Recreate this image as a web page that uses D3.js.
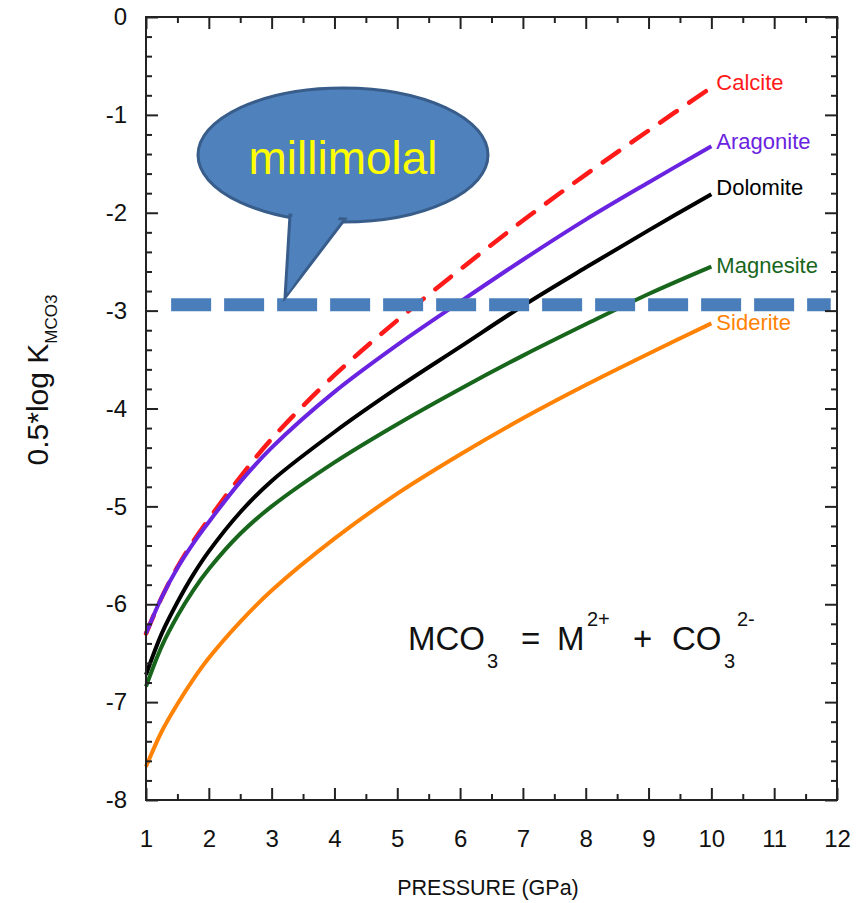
<!DOCTYPE html>
<html>
<head>
<meta charset="utf-8">
<script src="https://cdn.jsdelivr.net/npm/d3@7"></script>
<style>
  body { margin: 0; background: #fff; }
  svg { display: block; font-family: "Liberation Sans", Arial, sans-serif; }
</style>
</head>
<body>
<svg id="chart" width="864" height="903"></svg>
<script>
// ---------- data ----------
const pressure  = [1, 1.25, 1.5, 1.75, 2, 2.5, 3, 4, 5, 6, 7, 8, 9, 10];
const calcite   = [-6.30, -5.93, -5.62, -5.36, -5.13, -4.70, -4.31, -3.66, -3.10, -2.58, -2.08, -1.61, -1.16, -0.72];
const aragonite = [-6.30, -5.93, -5.63, -5.38, -5.16, -4.75, -4.40, -3.83, -3.35, -2.91, -2.48, -2.07, -1.69, -1.32];
const dolomite  = [-6.72, -6.30, -5.98, -5.70, -5.46, -5.06, -4.74, -4.24, -3.79, -3.37, -2.95, -2.56, -2.18, -1.81];
const magnesite = [-6.84, -6.43, -6.12, -5.86, -5.64, -5.28, -5.00, -4.55, -4.16, -3.80, -3.46, -3.14, -2.83, -2.55];
const siderite  = [-7.66, -7.30, -7.02, -6.77, -6.55, -6.18, -5.86, -5.33, -4.87, -4.47, -4.10, -3.76, -3.44, -3.13];
const seriesNames  = ["Calcite", "Aragonite", "Dolomite", "Magnesite", "Siderite"];
const seriesValues = [calcite, aragonite, dolomite, magnesite, siderite];
const xTicks = [1, 2, 3, 4, 5, 6, 7, 8, 9, 10, 11, 12];
const yTicks = [0, -1, -2, -3, -4, -5, -6, -7, -8];
const millimolalLevel = -2.94;

// ---------- styles / layout ----------
const seriesColors = ["#ff1a1a", "#6a23e0", "#000000", "#17661c", "#ff8205"];
const labelShift   = [-5, -5, -7, -1, -1];
const svg = d3.select("#chart");
const L = 146, R = 837, T = 17, B = 800;
const x = d3.scaleLinear().domain([1, 12]).range([L, R]);
const y = d3.scaleLinear().domain([-8, 0]).range([B, T]);
const frameColor = "#222";

// curves
const line = d3.line().x(d => x(d[0])).y(d => y(d[1])).curve(d3.curveCatmullRom.alpha(0.5));
seriesValues.forEach((vals, i) => {
  const pts = pressure.map((p, j) => [p, vals[j]]);
  svg.append("path")
    .attr("d", line(pts))
    .attr("fill", "none")
    .attr("stroke", seriesColors[i])
    .attr("stroke-width", i === 0 ? 4.5 : 4)
    .attr("stroke-dasharray", i === 0 ? "20,15" : null)
    .attr("stroke-linecap", i === 0 ? "round" : "butt");
  const last = vals.length - 1;
  svg.append("text")
    .attr("x", x(pressure[last]) + 5)
    .attr("y", y(vals[last]) + labelShift[i])
    .attr("dy", "0.35em")
    .attr("fill", seriesColors[i])
    .attr("font-size", 22)
    .text(seriesNames[i]);
});

// millimolal dashed line
svg.append("line")
  .attr("x1", x(1.4)).attr("x2", x(11.9))
  .attr("y1", y(millimolalLevel)).attr("y2", y(millimolalLevel))
  .attr("stroke", "#4a7ebb").attr("stroke-width", 13)
  .attr("stroke-dasharray", "40,13");

// callout
const cx = 343, cy = 155, rx = 145, ry = 67;
const tailPath = `M 290 ${cy + 60} L 285 ${y(millimolalLevel) - 7} L 345 ${cy + 64} Z`;
svg.append("ellipse").attr("cx", cx).attr("cy", cy).attr("rx", rx).attr("ry", ry)
  .attr("fill", "#4f81bd").attr("stroke", "#385d8a").attr("stroke-width", 3);
svg.append("path").attr("d", tailPath)
  .attr("fill", "#4f81bd").attr("stroke", "#385d8a").attr("stroke-width", 3)
  .attr("stroke-linejoin", "miter");
svg.append("path").attr("d", `M 292.5 ${cy + 57} L 287.5 ${y(millimolalLevel) - 11} L 341 ${cy + 60} Z`)
  .attr("fill", "#4f81bd");
svg.append("text").attr("x", cx).attr("y", 174).attr("text-anchor", "middle")
  .attr("fill", "#ffff00").attr("font-size", 46).text("millimolal");

// frame
svg.append("rect").attr("x", L).attr("y", T).attr("width", R - L).attr("height", B - T)
  .attr("fill", "none").attr("stroke", frameColor).attr("stroke-width", 2);

function styleAxis(g) {
  g.select(".domain").remove();
  g.selectAll("line").attr("stroke", frameColor).attr("stroke-width", 2);
  g.selectAll("text").attr("fill", "#111").attr("font-size", 24)
    .attr("font-family", "\"Liberation Sans\", Arial, sans-serif");
}
const xMinor = d3.range(1.5, 12, 1);
const yMinor = d3.range(-8, 0.001, 0.2).filter(v => Math.abs(v - Math.round(v)) > 0.01);

svg.append("g").attr("transform", `translate(0,${B})`)
  .call(d3.axisBottom(x).tickValues(xTicks).tickSize(-12).tickPadding(30).tickFormat(d => String(d)))
  .call(styleAxis);
svg.append("g").attr("transform", `translate(0,${B})`)
  .call(d3.axisBottom(x).tickValues(xMinor).tickSize(-6).tickFormat(""))
  .call(styleAxis);
svg.append("g").attr("transform", `translate(0,${T})`)
  .call(d3.axisTop(x).tickValues(xTicks).tickSize(-12).tickFormat(""))
  .call(styleAxis);
svg.append("g").attr("transform", `translate(0,${T})`)
  .call(d3.axisTop(x).tickValues(xMinor).tickSize(-6).tickFormat(""))
  .call(styleAxis);
svg.append("g").attr("transform", `translate(${L},0)`)
  .call(d3.axisLeft(y).tickValues(yTicks).tickSize(-12).tickPadding(19).tickFormat(d => String(d)))
  .call(styleAxis);
svg.append("g").attr("transform", `translate(${L},0)`)
  .call(d3.axisLeft(y).tickValues(yMinor).tickSize(-6).tickFormat(""))
  .call(styleAxis);
svg.append("g").attr("transform", `translate(${R},0)`)
  .call(d3.axisRight(y).tickValues(yTicks).tickSize(-12).tickFormat(""))
  .call(styleAxis);
svg.append("g").attr("transform", `translate(${R},0)`)
  .call(d3.axisRight(y).tickValues(yMinor).tickSize(-6).tickFormat(""))
  .call(styleAxis);

// axis titles
svg.append("text").attr("x", 488).attr("y", 895).attr("text-anchor", "middle")
  .attr("font-size", 21.5).attr("fill", "#111").text("PRESSURE (GPa)");
const yt = svg.append("text").attr("transform", "translate(48,380) rotate(-90)")
  .attr("text-anchor", "middle").attr("font-size", 30).attr("fill", "#111");
yt.append("tspan").text("0.5*log K");
yt.append("tspan").attr("font-size", 17).attr("dy", 9).text("MCO3");

// reaction equation
const eq = svg.append("g");
const eqBase = 650, subBase = 668, supBase = 626;
const eqParts = [
  ["MCO", 408, eqBase, 33], ["3", 487, subBase, 20], ["=", 521, eqBase, 33],
  ["M", 557, eqBase, 33], ["2+", 587, supBase, 20], ["+", 633, eqBase, 33],
  ["CO", 672, eqBase, 33], ["3", 724, subBase, 20], ["2-", 737, supBase, 20]
];
eqParts.forEach(([t, px, py, fs]) => {
  eq.append("text").attr("x", px).attr("y", py).attr("font-size", fs).attr("fill", "#111").text(t);
});
</script>
</body>
</html>
